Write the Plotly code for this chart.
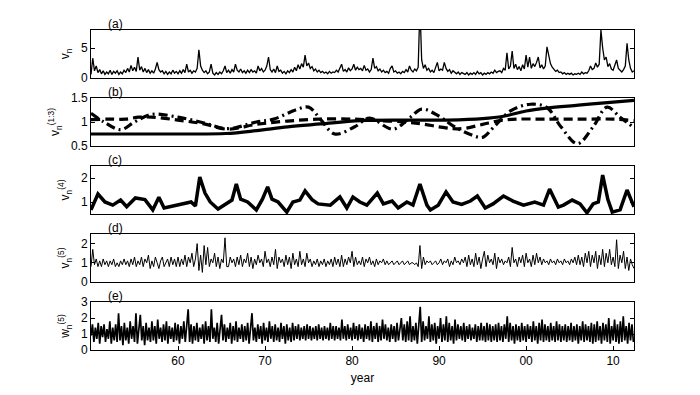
import numpy as np
import plotly.graph_objects as go

# ---------------- data ----------------
start_year = 1950.0
end_year = 2012.4

# (a) v_n, 5 samples per year
v_a = [
    0.6, 3.3, 1.2, 2.0, 0.9,  1.4, 0.7, 1.2, 0.6, 1.0,  0.7, 1.3, 0.6, 1.1, 0.8,
    1.2, 0.6, 1.0, 0.7, 1.3,  0.9, 1.6, 1.0, 2.1, 1.2,  1.8, 1.1, 3.5, 1.3, 1.9,
    1.0, 1.6, 0.9, 1.4, 0.8,  1.2, 0.8, 1.5, 2.6, 1.4,  1.0, 1.2, 0.7, 1.1, 0.6,
    1.0, 0.7, 1.3, 0.8, 1.1,  0.7, 1.2, 0.8, 1.4, 0.9,  2.3, 1.0, 1.3, 0.8, 1.2,
    1.0, 1.6, 4.7, 2.0, 1.3,  0.9, 1.2, 0.7, 1.0, 2.3,  0.8, 0.5, 0.9, 0.6, 1.0,
    0.7, 1.2, 2.0, 0.9, 1.3,  0.8, 1.4, 1.0, 2.3, 1.3,  1.0, 1.5, 0.9, 1.2, 0.8,
    1.3, 0.9, 1.4, 1.0, 1.2,  0.8, 2.0, 1.2, 1.6, 1.0,  1.3, 2.0, 3.5, 1.4, 1.0,
    1.5, 0.9, 2.0, 1.1, 1.3,  0.8, 1.1, 0.7, 1.2, 0.9,  1.4, 1.0, 1.8, 1.2, 2.2,
    1.5, 2.4, 1.8, 3.8, 2.0,  2.5, 1.6, 1.9, 1.2, 1.5,  1.0, 1.3, 0.9, 1.1, 0.8,
    1.0, 0.7, 1.1, 0.8, 1.0,  0.9, 1.3, 1.0, 1.6, 2.3,  1.1, 1.4, 1.0, 1.7, 1.2,
    1.5, 2.3, 1.3, 1.8, 1.4,  1.6, 1.2, 2.1, 1.3, 1.5,  1.0, 1.4, 3.3, 1.6, 1.9,
    1.2, 1.5, 1.0, 1.3, 0.9,  1.1, 0.8, 1.6, 2.0, 1.0,  1.2, 0.8, 1.0, 0.7, 1.1,
    0.9, 1.4, 1.0, 2.0, 1.3,  1.0, 1.5, 1.2, 1.8, 12.0, 3.0, 1.6, 2.2, 1.3, 1.6,
    1.0, 1.3, 0.9, 1.6, 2.6,  1.2, 1.5, 1.3, 2.6, 1.6,  1.1, 1.4, 0.8, 1.2, 0.9,
    0.7, 1.0, 0.6, 0.9, 0.7,  0.6, 0.9, 0.5, 0.8, 0.6,  0.9, 0.6, 1.1, 0.7, 0.9,
    0.5, 0.8, 0.6, 0.9, 0.7,  1.0, 0.8, 1.3, 0.9, 1.1,  1.2, 0.9, 1.6, 1.3, 4.2,
    1.5, 2.0, 4.5, 1.6, 2.3,  1.4, 1.9, 1.2, 2.2, 1.5,  3.8, 1.8, 3.5, 1.6, 2.4,
    1.9, 2.6, 3.5, 1.7, 2.2,  1.5, 2.0, 5.2, 4.0, 2.4,  1.8, 1.4, 1.1, 1.3, 0.9,
    1.0, 0.7, 0.9, 0.6, 0.8,  0.6, 0.8, 0.5, 0.7, 0.6,  0.8, 0.6, 1.0, 0.7, 0.9,
    0.8, 1.2, 2.0, 1.4, 1.6,  2.5, 1.8, 2.3, 8.0, 5.0,  3.0, 3.5, 1.9, 2.4, 1.5,
    1.3, 2.0, 3.0, 1.6, 1.2,  1.0, 1.4, 2.0, 5.8, 3.0,  1.6, 1.0, 1.2,
]

# (b) three smooth components v_n^(1:3)
b1_years = [1950, 1960, 1965.5, 1969, 1972.6, 1976.4, 1981, 1991, 1995, 1997.4,
            2000, 2002.4, 2006, 2009, 2012.4]
b1_vals = [0.75, 0.75, 0.76, 0.82, 0.90, 0.96, 1.03, 1.04, 1.07, 1.12,
           1.23, 1.29, 1.35, 1.40, 1.45]
b2_years = [1950, 1952, 1954, 1955.5, 1957, 1960, 1963, 1965.7, 1969, 1972.6,
            1976.4, 1980.3, 1983, 1986, 1988, 1990, 1991.6, 1993, 1995, 1997,
            1999, 2002, 2006, 2010, 2012.4]
b2_vals = [1.05, 1.06, 1.06, 1.10, 1.10, 1.04, 0.96, 0.85, 0.95, 1.02,
           1.06, 1.06, 1.03, 1.00, 0.96, 0.90, 0.86, 0.87, 0.95, 1.03,
           1.06, 1.06, 1.06, 1.06, 1.03]
b3_years = [1950, 1951.5, 1953.4, 1955, 1957, 1960, 1963, 1965.7, 1969, 1971,
            1973.5, 1975, 1976.4, 1978, 1980.3, 1982, 1984.7, 1986.7, 1988, 1990,
            1991.6, 1993.6, 1995, 1996.2, 1998.2, 2000.5, 2002.4, 2004, 2005.9,
            2007.7, 2009.3, 2010.8, 2012.4]
b3_vals = [1.18, 1.00, 0.84, 1.00, 1.16, 1.10, 0.98, 0.86, 1.00, 1.06,
           1.25, 1.31, 1.05, 0.75, 0.90, 1.08, 0.85, 1.10, 1.27, 1.12,
           0.92, 0.74, 0.68, 0.88, 1.23, 1.37, 1.30, 0.90, 0.55,
           0.90, 1.31, 1.10, 0.88]

# (c) v_n^(4)
c_years = [1950.0, 1950.8, 1951.6, 1952.5, 1953.4, 1954.1, 1955.1, 1956.2, 1957.1, 1957.8,
           1958.4, 1959.7, 1960.8, 1961.5, 1962.0, 1962.5, 1963.1, 1963.7, 1964.6, 1965.7,
           1966.2, 1966.7, 1967.2, 1968.0, 1969.0, 1969.7, 1970.3, 1970.8, 1971.5, 1972.5,
           1973.2, 1974.0, 1974.6, 1975.4, 1976.1, 1977.5, 1978.6, 1979.4, 1980.1, 1980.9,
           1981.7, 1982.9, 1983.6, 1984.6, 1985.3, 1986.3, 1987.0, 1987.8, 1988.6, 1989.0,
           1989.9, 1990.8, 1991.6, 1992.6, 1993.6, 1994.4, 1995.3, 1996.2, 1997.4, 1998.5,
           1999.7, 2001.0, 2002.0, 2002.7, 2003.7, 2004.3, 2005.3, 2006.2, 2007.0, 2007.7,
           2008.3, 2008.8, 2009.4, 2009.9, 2010.8, 2011.6, 2012.2, 2012.4]
c_vals = [0.67, 1.33, 1.00, 0.87, 1.08, 0.80, 1.17, 1.10, 0.67, 1.20,
          0.75, 0.87, 0.96, 1.00, 0.83, 2.04, 1.37, 1.00, 0.71, 0.96,
          1.08, 1.75, 1.12, 1.00, 0.67, 1.12, 1.63, 1.12, 1.00, 0.58,
          1.00, 1.08, 1.46, 1.10, 0.92, 0.87, 1.21, 0.75, 1.21, 1.00,
          0.87, 1.37, 0.92, 1.04, 0.75, 1.00, 0.87, 1.75, 0.87, 0.67,
          0.87, 1.42, 1.00, 0.90, 1.04, 1.25, 0.75, 0.92, 1.25, 1.04,
          0.87, 1.00, 0.87, 1.54, 0.79, 0.87, 1.08, 0.92, 0.55, 0.92,
          1.00, 2.12, 1.10, 0.58, 0.67, 1.50, 0.92, 0.80]

# (d) v_n^(5), 5 samples per year
v_d = [
    0.8, 1.7, 0.9, 1.2, 0.8,  1.1, 0.8, 1.2, 0.9, 1.1,  0.8, 1.1, 0.9, 1.2, 0.8,
    1.0, 0.8, 1.1, 0.9, 1.2,  0.9, 1.1, 0.8, 1.2, 0.9,  1.3, 0.8, 1.1, 0.9, 1.3,
    0.8, 1.2, 1.0, 1.4, 0.7,  1.1, 0.8, 1.3, 1.0, 0.7,  1.1, 1.3, 0.8, 1.0, 1.2,
    0.8, 1.3, 0.9, 1.2, 0.8,  1.3, 0.8, 1.2, 0.9, 1.4,  0.8, 1.3, 1.0, 1.5, 0.8,
    1.2, 2.0, 0.6, 1.4, 0.5,  1.9, 0.9, 1.8, 0.8, 1.2,  1.0, 1.5, 0.8, 1.3, 0.7,
    1.2, 1.0, 2.3, 0.8, 0.8,  1.3, 1.0, 1.2, 0.8, 1.3,  0.9, 1.4, 0.8, 1.2, 1.0,
    1.5, 0.8, 1.3, 0.7, 1.2,  0.9, 1.4, 1.0, 1.2, 0.8,  1.6, 1.0, 1.2, 0.8, 1.3,
    0.9, 1.7, 0.7, 1.3, 1.0,  1.2, 0.8, 1.4, 0.9, 1.3,  0.7, 1.5, 0.9, 1.2, 0.8,
    1.6, 0.9, 1.2, 0.8, 1.5,  1.0, 1.2, 0.8, 1.1, 0.9,  1.2, 0.8, 1.1, 0.9, 1.2,
    0.8, 1.1, 0.9, 1.2, 0.8,  1.3, 0.9, 1.2, 0.8, 1.4,  0.8, 1.2, 0.9, 1.3, 1.0,
    1.6, 0.8, 1.3, 0.9, 1.1,  0.9, 1.3, 0.8, 1.2, 1.0,  1.3, 0.9, 1.1, 0.8, 1.2,
    0.9, 1.1, 1.0, 1.2, 0.9,  1.1, 0.9, 1.0, 1.1, 0.9,  1.0, 1.1, 0.9, 1.0, 1.1,
    0.9, 1.0, 1.1, 0.9, 1.0,  1.0, 0.9, 1.0, 0.8, 1.9,  0.7, 1.3, 0.9, 1.1, 1.0,
    1.1, 0.9, 1.0, 1.1, 0.9,  1.0, 1.2, 0.9, 1.1, 1.0,  1.2, 0.8, 1.1, 0.9, 1.3,
    1.0, 1.1, 0.9, 1.2, 1.0,  1.3, 0.8, 1.4, 0.9, 1.2,  0.8, 1.5, 0.9, 1.3, 0.7,
    1.2, 1.6, 0.8, 1.4, 1.0,  1.2, 0.9, 1.5, 0.7, 1.3,  1.0, 1.2, 0.9, 1.1, 1.0,
    1.3, 0.8, 1.8, 1.0, 1.2,  0.8, 1.3, 1.0, 1.4, 0.8,  1.5, 1.0, 1.2, 0.8, 1.4,
    0.9, 1.5, 1.0, 1.3, 0.9,  1.2, 1.0, 1.1, 0.9, 1.2,  1.0, 1.1, 0.9, 1.2, 1.0,
    1.1, 0.9, 1.2, 1.0, 1.1,  0.9, 1.2, 1.0, 1.3, 0.9,  1.4, 0.9, 1.3, 0.8, 1.5,
    1.0, 1.6, 0.8, 1.4, 1.0,  1.6, 0.7, 1.4, 0.9, 1.7,  0.8, 1.5, 1.0, 1.7, 0.9,
    1.3, 0.8, 2.2, 0.7, 1.4,  1.0, 1.6, 0.7, 1.3, 0.6,  1.2, 0.9, 0.7,
]

# (e) w_n^(5), 6 samples per year
w_e = [
    0.9, 1.6, 0.5, 1.4, 0.7, 1.7,  0.4, 1.5, 0.8, 1.6, 0.5, 1.3,  0.7, 1.8, 0.4, 1.4, 0.6, 1.6,
    0.5, 2.3, 0.6, 1.5, 0.3, 1.7,  0.6, 1.4, 0.4, 1.8, 0.7, 1.5,  0.5, 2.3, 0.4, 1.6, 2.2, 0.6,
    1.5, 0.3, 1.7, 0.6, 1.4, 0.5,  1.8, 0.6, 1.5, 0.4, 1.9, 0.7,  1.4, 0.5, 1.6, 0.6, 1.8, 0.4,
    1.5, 0.7, 1.4, 0.5, 1.7, 0.6,  1.6, 0.4, 1.5, 0.7, 1.8, 0.5,  1.4, 2.55, 0.5, 1.6, 0.4, 1.5,
    0.6, 1.7, 0.5, 1.4, 0.7, 1.6,  0.4, 1.8, 0.6, 1.5, 0.5, 2.55, 0.7, 1.4, 0.5, 1.7, 0.4, 1.5,
    2.2, 0.6, 1.6, 0.5, 1.4, 0.7,  1.7, 0.4, 1.5, 0.6, 1.8, 0.5,  1.4, 0.7, 1.6, 0.5, 1.5, 0.6,
    1.7, 0.4, 1.5, 2.3, 0.6, 1.4,  0.5, 1.6, 0.7, 1.5, 0.4, 1.7,  0.6, 1.4, 0.5, 1.8, 0.7, 1.5,
    0.5, 1.6, 0.6, 1.4, 0.5, 1.7,  0.7, 1.5, 0.4, 1.6, 0.6, 1.4,  0.5, 1.7, 0.6, 1.5, 0.7, 1.6,
    0.6, 1.4, 0.7, 1.5, 0.6, 1.6,  0.7, 1.5, 0.6, 1.4, 0.7, 1.5,  0.6, 1.6, 0.7, 1.4, 0.6, 1.5,
    0.7, 1.4, 0.6, 1.7, 0.7, 1.5,  0.6, 1.5, 0.7, 1.4, 0.6, 1.9,  0.7, 1.5, 0.6, 1.6, 0.7, 1.4,
    0.6, 1.7, 0.7, 1.5, 0.6, 1.6,  0.7, 1.4, 0.5, 1.6, 0.7, 1.5,  0.6, 1.8, 0.5, 1.5, 0.7, 1.7,
    0.5, 1.5, 0.6, 1.9, 0.7, 1.6,  0.6, 1.4, 0.5, 1.6, 0.7, 1.5,  0.5, 1.7, 0.6, 1.5, 2.0, 0.6,
    1.6, 0.5, 1.8, 0.6, 2.1, 0.5,  1.5, 0.6, 1.7, 0.4, 1.6, 2.7,  0.5, 1.8, 0.6, 1.5, 0.7, 2.1,
    0.5, 1.6, 0.6, 1.7, 0.4, 1.5,  0.7, 2.0, 0.5, 1.6, 0.6, 2.1,  0.5, 1.7, 0.6, 1.5, 0.4, 1.9,
    0.6, 1.6, 0.7, 1.5, 0.6, 1.7,  0.5, 1.5, 0.7, 1.6, 0.6, 1.4,  0.7, 1.6, 0.5, 1.5, 0.6, 1.7,
    0.6, 1.5, 0.5, 1.7, 0.6, 1.6,  0.5, 1.5, 0.6, 1.6, 0.5, 1.7,  0.6, 1.5, 0.5, 1.6, 0.7, 2.1,
    0.5, 1.7, 0.6, 1.5, 0.4, 1.6,  0.6, 1.5, 0.5, 1.7, 0.6, 1.5,  0.5, 1.6, 0.7, 1.5, 0.5, 1.8,
    0.6, 1.5, 0.4, 1.7, 0.6, 1.9,  0.5, 1.6, 0.6, 1.5, 0.5, 1.7,  0.6, 1.5, 0.5, 1.8, 0.6, 1.6,
    0.5, 1.5, 0.6, 1.6, 0.5, 1.5,  0.6, 1.7, 0.5, 1.5, 0.6, 1.6,  0.4, 1.5, 0.6, 1.8, 0.5, 1.6,
    0.6, 1.5, 0.5, 1.7, 0.4, 1.6,  0.5, 1.8, 0.6, 1.5, 0.4, 1.7,  0.6, 1.6, 0.5, 2.0, 0.4, 1.5,
    0.6, 1.9, 0.5, 1.6, 0.4, 1.8,  0.5, 2.1, 0.6, 1.5, 0.4, 1.7,  0.6, 1.6, 0.5,
]

x_tickvals = [1960, 1970, 1980, 1990, 2000, 2010]
x_ticktext = ["60", "70", "80", "90", "00", "10"]
panel_labels = ["(a)", "(b)", "(c)", "(d)", "(e)"]
y_titles = ["v<sub>n</sub>", "v<sub>n</sub><sup>(1:3)</sup>", "v<sub>n</sub><sup>(4)</sup>",
            "v<sub>n</sub><sup>(5)</sup>", "w<sub>n</sub><sup>(5)</sup>"]

# ---------------- figure ----------------
yrs_a = start_year + 0.2 * np.arange(len(v_a))
yrs_d = start_year + 0.2 * np.arange(len(v_d))
yrs_e = start_year + np.arange(len(w_e)) / 6.0

FAM = "Liberation Sans, Arial, sans-serif"
blk = "#000000"

def f(size=11):
    return dict(family=FAM, size=size, color=blk)

fig = go.Figure()
fig.add_trace(go.Scatter(x=yrs_a, y=v_a, mode="lines", line=dict(color=blk, width=1.3),
                         xaxis="x", yaxis="y"))
fig.add_trace(go.Scatter(x=b1_years, y=b1_vals, mode="lines",
                         line=dict(color=blk, width=3.2, shape="spline"),
                         xaxis="x2", yaxis="y2"))
fig.add_trace(go.Scatter(x=b2_years, y=b2_vals, mode="lines",
                         line=dict(color=blk, width=3.2, shape="spline", dash="9px,5px"),
                         xaxis="x2", yaxis="y2"))
fig.add_trace(go.Scatter(x=b3_years, y=b3_vals, mode="lines",
                         line=dict(color=blk, width=3.2, shape="spline", dash="9px,4px,2px,4px"),
                         xaxis="x2", yaxis="y2"))
fig.add_trace(go.Scatter(x=c_years, y=c_vals, mode="lines", line=dict(color=blk, width=3.5),
                         xaxis="x3", yaxis="y3"))
fig.add_trace(go.Scatter(x=yrs_d, y=v_d, mode="lines", line=dict(color=blk, width=1),
                         xaxis="x4", yaxis="y4"))
fig.add_trace(go.Scatter(x=yrs_e, y=w_e, mode="lines", line=dict(color=blk, width=1.7),
                         xaxis="x5", yaxis="y5"))

domains = [[0.85, 1.0], [0.6375, 0.7875], [0.425, 0.575], [0.2125, 0.3625], [0.0, 0.15]]
yranges = [[0, 8], [0.5, 1.5], [0.5, 2.5], [0, 2.5], [0, 3]]
ytickvals = [[0, 5], [0.5, 1, 1.5], [1, 2], [0, 1, 2], [0, 1, 2, 3]]
yticktext = [["0", "5"], ["0.5", "1", "1.5"], ["1", "2"], ["0", "1", "2"], ["0", "1", "2", "3"]]

layout = dict(
    width=700, height=395,
    margin=dict(l=91, r=66, t=30, b=45),
    paper_bgcolor="white", plot_bgcolor="white",
    showlegend=False, font=f(11),
)
annotations = []
for i in range(5):
    xa = "xaxis" if i == 0 else f"xaxis{i+1}"
    ya = "yaxis" if i == 0 else f"yaxis{i+1}"
    last = (i == 4)
    xd = dict(
        domain=[0, 1], range=[start_year, end_year], anchor="y" if i == 0 else f"y{i+1}",
        showgrid=False, zeroline=False, showline=True, linecolor=blk, linewidth=1, mirror=True,
        ticks="inside" if last else "", ticklen=4, tickcolor=blk,
        tickvals=x_tickvals if last else [], ticktext=x_ticktext if last else [],
        showticklabels=last, tickfont=f(12),
    )
    if last:
        xd["title"] = dict(text="year", font=f(12), standoff=6)
    if i > 0:
        xd["matches"] = "x"
    layout[xa] = xd
    layout[ya] = dict(
        domain=domains[i], range=yranges[i], anchor="x" if i == 0 else f"x{i+1}",
        showgrid=False, zeroline=False, showline=True, linecolor=blk, linewidth=1, mirror="ticks",
        ticks="inside", ticklen=4, tickcolor=blk,
        tickvals=ytickvals[i], ticktext=yticktext[i], tickfont=f(12),
        title=dict(text=y_titles[i], font=f(12), standoff=8),
    )
    annotations.append(dict(
        text=panel_labels[i], x=0.045, xref="paper", xanchor="center",
        y=domains[i][1], yref="paper", yanchor="bottom", yshift=-3,
        showarrow=False, font=f(12),
    ))
layout["annotations"] = annotations
fig.update_layout(**layout)

fig.write_html("out.html")
